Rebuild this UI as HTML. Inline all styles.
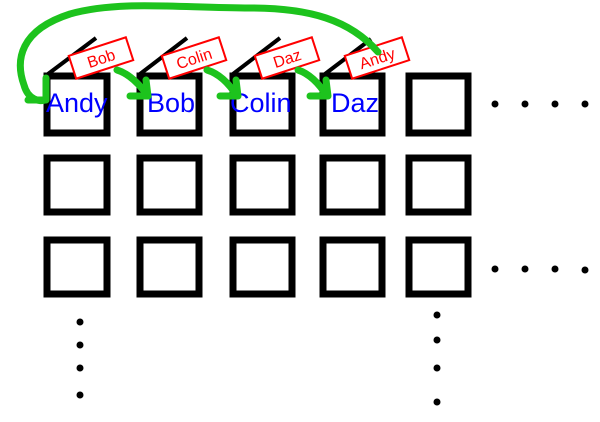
<!DOCTYPE html>
<html><head><meta charset="utf-8"><style>body{margin:0;background:#fff}svg{display:block}</style></head><body>
<svg width="600" height="422" viewBox="0 0 600 422" xmlns="http://www.w3.org/2000/svg" font-family="'Liberation Sans','DejaVu Sans',sans-serif">
<g fill="none" stroke="#000" stroke-width="7">
<rect x="47" y="76" width="60" height="57"/>
<rect x="140" y="76" width="59" height="57"/>
<rect x="233" y="76" width="59" height="57"/>
<rect x="323" y="76" width="59" height="57"/>
<rect x="409" y="76" width="59" height="57"/>
<rect x="47" y="158" width="60" height="54"/>
<rect x="140" y="158" width="59" height="54"/>
<rect x="233" y="158" width="59" height="54"/>
<rect x="323" y="158" width="59" height="54"/>
<rect x="409" y="158" width="59" height="54"/>
<rect x="47" y="240" width="60" height="54"/>
<rect x="140" y="240" width="59" height="54"/>
<rect x="233" y="240" width="59" height="54"/>
<rect x="323" y="240" width="59" height="54"/>
<rect x="409" y="240" width="59" height="54"/>
</g>
<g stroke="#000" stroke-width="4">
<line x1="48" y1="74" x2="96" y2="38"/><line x1="140" y1="74" x2="187" y2="38"/>
<line x1="233" y1="74" x2="280" y2="38"/><line x1="325" y1="74" x2="371" y2="39"/>
</g>
<g fill="#fff" stroke="#f00" stroke-width="2">
<g transform="translate(101,58) rotate(-18)"><rect x="-30" y="-12" width="60" height="24"/><text x="0" y="6" text-anchor="middle" font-size="16" fill="#f00" stroke="none">Bob</text></g>
<g transform="translate(194,58) rotate(-18)"><rect x="-30" y="-12" width="60" height="24"/><text x="0" y="6" text-anchor="middle" font-size="16" fill="#f00" stroke="none">Colin</text></g>
<g transform="translate(287,58) rotate(-18)"><rect x="-30" y="-12" width="60" height="24"/><text x="0" y="6" text-anchor="middle" font-size="16" fill="#f00" stroke="none">Daz</text></g>
<g transform="translate(377,58) rotate(-18)"><rect x="-30" y="-12" width="60" height="24"/><text x="0" y="6" text-anchor="middle" font-size="16" fill="#f00" stroke="none">Andy</text></g>
</g>
<g fill="#00f" font-size="27">
<text x="46" y="112">Andy</text><text x="147" y="112">Bob</text><text x="230" y="112">Colin</text><text x="331" y="112">Daz</text>
</g>
<g fill="none" stroke="#1dc31d" stroke-width="7" stroke-linecap="round" stroke-linejoin="round">
<path d="M378,52 C350,20 310,8 250,8 C180,8 120,0 70,14 C20,30 15,60 24,85 C28,100 40,102 45,100"/>
<path d="M28,100 L46,100 L46,78"/>
<path d="M117,70 C130,74 140,85 148,96"/><path d="M130,96 L148,96 L146,80"/>
<path d="M207,70 C220,74 230,85 237,96"/><path d="M220,96 L238,96 L236,80"/>
<path d="M298,70 C310,74 320,85 327,96"/><path d="M310,96 L328,96 L326,80"/>
</g>
<g fill="#000">
<circle cx="495" cy="104" r="3.5"/><circle cx="525" cy="104" r="3.5"/><circle cx="555" cy="104" r="3.5"/><circle cx="585" cy="104" r="3.5"/>
<circle cx="495" cy="269" r="3.5"/><circle cx="525" cy="269" r="3.5"/><circle cx="555" cy="269" r="3.5"/><circle cx="585" cy="270" r="3.5"/>
<circle cx="80" cy="322" r="3.5"/><circle cx="80" cy="345" r="3.5"/><circle cx="80" cy="368" r="3.5"/><circle cx="80" cy="395" r="3.5"/>
<circle cx="437" cy="315" r="3.5"/><circle cx="437" cy="340" r="3.5"/><circle cx="437" cy="368" r="3.5"/><circle cx="437" cy="402" r="3.5"/>
</g>
</svg>
</body></html>
